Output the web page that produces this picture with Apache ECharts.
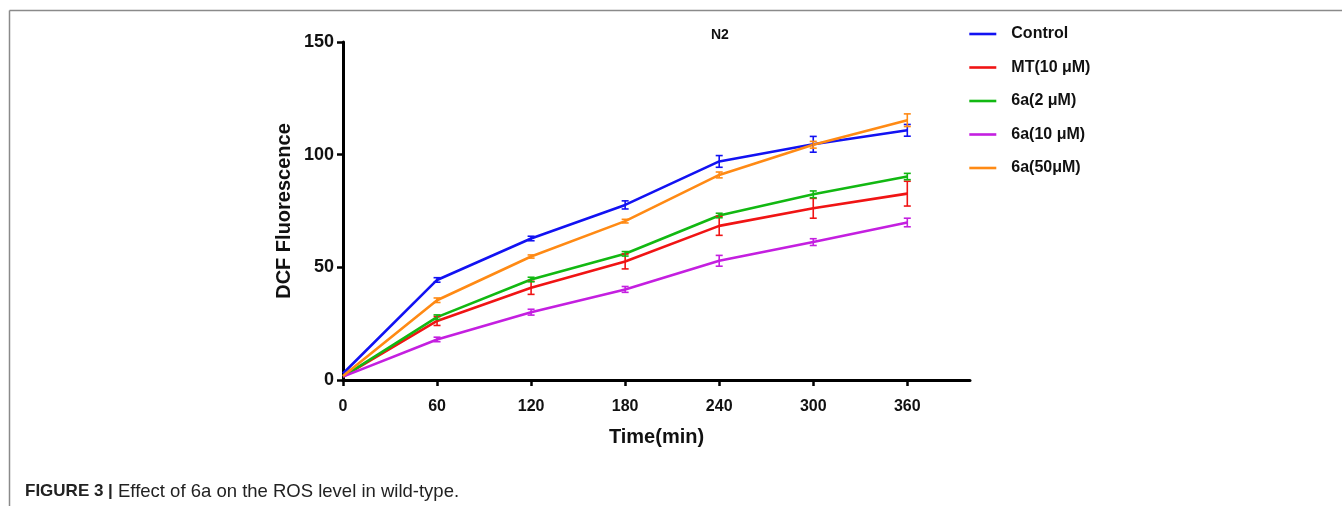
<!DOCTYPE html>
<html>
<head>
<meta charset="utf-8">
<script src="https://cdn.jsdelivr.net/npm/echarts@6/dist/echarts.min.js"></script>
<style>
  html, body { margin: 0; padding: 0; background: #fff; }
  #chart { width: 1342px; height: 506px; }
</style>
</head>
<body>
<div id="chart"></div>
<script>
// time points (min)
const times = [0, 60, 120, 180, 240, 300, 360]
const tickValues = [0, 60, 120, 180, 240, 300, 360]

// mean DCF fluorescence and error per group
const control = [2.9, 44.4, 62.8, 77.7, 97.0, 104.6, 110.8]
const controlErr = [0, 1.0, 1.0, 1.8, 2.6, 3.5, 2.6]
const mt10 = [1.5, 26.2, 40.9, 52.6, 68.4, 76.2, 82.7]
const mt10Err = [0, 2.0, 2.9, 3.3, 4.2, 4.4, 5.5]
const a2 = [1.5, 27.9, 44.6, 56.0, 73.0, 82.4, 90.3]
const a2Err = [0, 1.0, 1.0, 1.0, 1.0, 1.5, 1.4]
const a10 = [1.5, 18.0, 30.1, 40.2, 52.9, 61.2, 69.9]
const a10Err = [0, 1.0, 1.3, 1.3, 2.4, 1.5, 1.9]
const a50 = [1.8, 35.4, 54.8, 70.5, 91.0, 104.4, 115.3]
const a50Err = [0, 1.0, 0.7, 0.8, 1.3, 1.5, 2.8]

const groups = [
  {name: 'Control', color: '#1212f2', y: control, err: controlErr},
  {name: 'MT(10 μM)', color: '#f01414', y: mt10, err: mt10Err},
  {name: '6a(2 μM)', color: '#12b812', y: a2, err: a2Err},
  {name: '6a(10 μM)', color: '#c41fe0', y: a10, err: a10Err},
  {name: '6a(50μM)', color: '#ff8a14', y: a50, err: a50Err},
]

const font = 'Liberation Sans, Arial, sans-serif'

function renderErr (params, api) {
  const x = api.value(0)
  const m = api.value(1)
  const e = api.value(2)
  if (!e) return null
  const top = api.coord([x, m + e])
  const bot = api.coord([x, m - e])
  const w = 3.5
  const style = {stroke: api.visual('color'), lineWidth: 1.6}
  return {
    type: 'group',
    children: [
      {type: 'line', shape: {x1: top[0], y1: top[1], x2: bot[0], y2: bot[1]}, style},
      {type: 'line', shape: {x1: top[0] - w, y1: top[1], x2: top[0] + w, y2: top[1]}, style},
      {type: 'line', shape: {x1: bot[0] - w, y1: bot[1], x2: bot[0] + w, y2: bot[1]}, style},
    ],
  }
}

const series = []
groups.forEach(g => {
  series.push({
    name: g.name,
    type: 'line',
    data: times.map((t, i) => [t, g.y[i]]),
    symbol: 'none',
    lineStyle: {color: g.color, width: 2.6},
    itemStyle: {color: g.color},
    z: 3,
  })
  series.push({
    name: g.name + ' err',
    type: 'custom',
    renderItem: renderErr,
    data: times.map((t, i) => [t, g.y[i], g.err[i]]),
    itemStyle: {color: g.color},
    encode: {x: 0, y: 1},
    z: 4,
  })
})

const chart = echarts.init(document.getElementById('chart'))
chart.setOption({
  animation: false,
  title: {
    text: 'N2',
    left: 706,
    top: 23,
    textStyle: {fontFamily: font, fontWeight: 'bold', fontSize: 14, color: '#111'},
  },
  legend: {
    orient: 'vertical',
    left: 968,
    top: 26,
    padding: 0,
    itemWidth: 27,
    itemHeight: 14,
    itemGap: 17.5,
    itemStyle: {opacity: 0},
    lineStyle: {width: 2.6},
    data: groups.map(g => g.name),
    textStyle: {fontFamily: font, fontWeight: 'bold', fontSize: 16, color: '#111', padding: [0, 0, 0, 10]},
  },
  grid: {left: 343, right: 372, top: 42, bottom: 126},
  xAxis: {
    type: 'value',
    min: 0,
    max: 400,
    interval: 60,
    name: 'Time(min)',
    nameLocation: 'middle',
    nameGap: 47,
    nameTextStyle: {fontFamily: font, fontWeight: 'bold', fontSize: 20, color: '#111'},
    axisLine: {lineStyle: {color: '#000', width: 3}},
    axisTick: {customValues: tickValues, length: 6, lineStyle: {color: '#000', width: 2.5}},
    axisLabel: {customValues: tickValues, margin: 19, fontFamily: font, fontWeight: 'bold', fontSize: 16, color: '#111'},
    splitLine: {show: false},
  },
  yAxis: {
    type: 'value',
    min: 0,
    max: 150,
    interval: 50,
    name: 'DCF Fluorescence',
    nameLocation: 'middle',
    nameGap: 49,
    nameTextStyle: {fontFamily: font, fontWeight: 'bold', fontSize: 20, color: '#111'},
    axisLine: {show: true, lineStyle: {color: '#000', width: 3}},
    axisTick: {show: true, length: 6, lineStyle: {color: '#000', width: 2.5}},
    axisLabel: {margin: 9, fontFamily: font, fontWeight: 'bold', fontSize: 18, color: '#111'},
    splitLine: {show: false},
  },
  graphic: [
    {type: 'line', shape: {x1: 9.5, y1: 10.5, x2: 1342, y2: 10.5}, style: {stroke: '#8a8a8a', lineWidth: 1.5}},
    {type: 'line', shape: {x1: 9.5, y1: 10.5, x2: 9.5, y2: 506}, style: {stroke: '#8a8a8a', lineWidth: 1.5}},
    {
      type: 'text',
      left: 25,
      top: 482,
      style: {
        text: '{b|FIGURE 3 |} Effect of 6a on the ROS level in wild-type.',
        rich: {b: {fontWeight: 'bold', fontFamily: font, fontSize: 17, fill: '#222'}},
        fontFamily: font,
        fontSize: 18.5,
        fill: '#222',
      },
    },
  ],
  series,
})
</script>
</body>
</html>
